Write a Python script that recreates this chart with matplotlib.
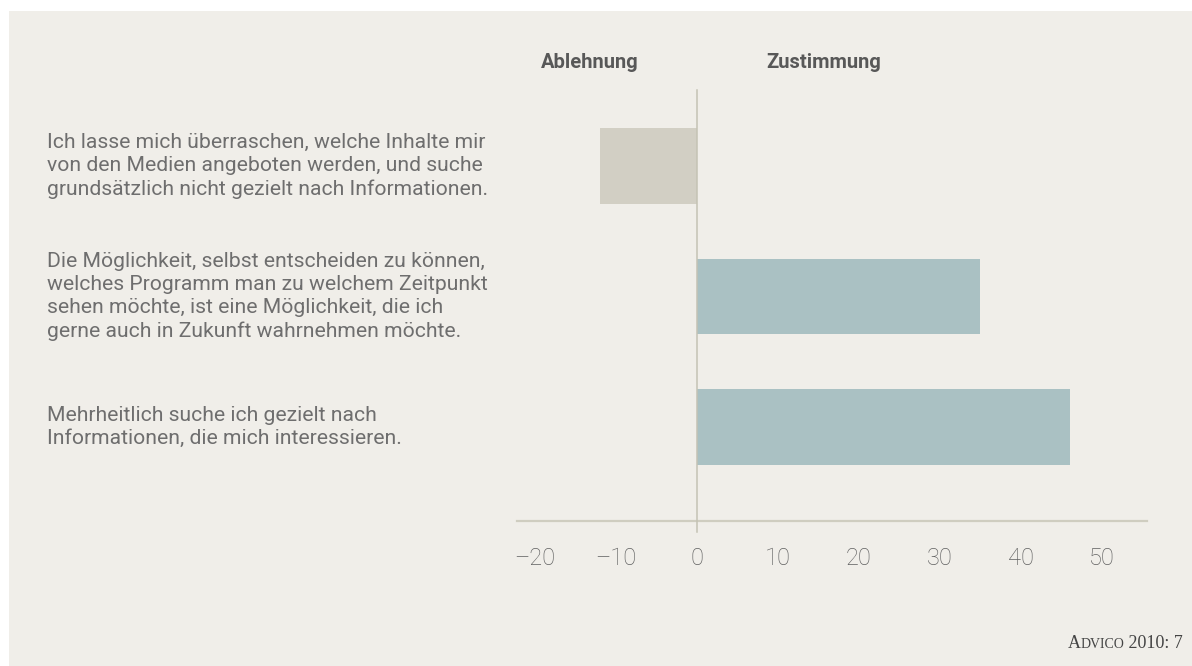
import matplotlib
matplotlib.use('Agg')
import matplotlib.pyplot as plt
import matplotlib.patches as mpatches
import matplotlib.transforms as mtransforms
from matplotlib.offsetbox import TextArea, HPacker, AnchoredOffsetbox

# ── Daten ────────────────────────────────────────────────────────────────────
statements = [
    'Ich lasse mich überraschen, welche Inhalte mir\n'
    'von den Medien angeboten werden, und suche\n'
    'grundsätzlich nicht gezielt nach Informationen.',
    'Die Möglichkeit, selbst entscheiden zu können,\n'
    'welches Programm man zu welchem Zeitpunkt\n'
    'sehen möchte, ist eine Möglichkeit, die ich\n'
    'gerne auch in Zukunft wahrnehmen möchte.',
    'Mehrheitlich suche ich gezielt nach\n'
    'Informationen, die mich interessieren.',
]
values = [-12, 35, 46]
xticks = [-20, -10, 0, 10, 20, 30, 40, 50]
xtick_labels = ['\u201320', '\u201310', '0', '10', '20', '30', '40', '50']

# ── Farben ───────────────────────────────────────────────────────────────────
BG = '#f0eee9'
NEG = '#d2cfc4'
POS = '#aac1c3'
AXIS = '#cfcdc0'
TXT = '#6e6e6e'

plt.rcParams['font.family'] = ['Roboto', 'DejaVu Sans']

W, H = 1192, 666
fig = plt.figure(figsize=(W / 100, H / 100), dpi=100)
fig.patch.set_facecolor('white')
fig.patches.append(mpatches.Rectangle((9 / W, 0), 1 - 9 / W, 1 - 11 / H,
                                      transform=fig.transFigure,
                                      facecolor=BG, edgecolor='none', zorder=-10))

ax = fig.add_axes([517 / W, 1 - 521 / H, 630 / W, 431 / H])
ax.set_facecolor('none')

ypos = list(range(len(values)))
colors = [NEG if v < 0 else POS for v in values]
ax.barh(ypos, values, height=0.582, color=colors, edgecolor='none', zorder=2)

ax.set_xlim(-22.22, 55.56)
ax.set_ylim(2.72, -0.582)

for s in ['top', 'right', 'left']:
    ax.spines[s].set_visible(False)
ax.spines['bottom'].set_color(AXIS)
ax.spines['bottom'].set_linewidth(1.6)

# Nulllinie, ragt etwas unter die x-Achse
ax.axvline(0, ymin=-0.026, ymax=1, color='#c4c2b4', linewidth=1.1,
           clip_on=False, zorder=3)

ax.set_yticks([])
ax.set_xticks(xticks)
ax.set_xticklabels(xtick_labels, fontsize=17, color='#606060', fontweight='light')
ax.tick_params(axis='x', length=0, pad=19)

# Aussagen links (x in Figure-Koordinaten, y in Datenkoordinaten)
trans = mtransforms.blended_transform_factory(fig.transFigure, ax.transData)
for y, s in zip(ypos, statements):
    ax.text(47 / W, y, s, transform=trans, ha='left', va='center',
            fontsize=15.2, color=TXT, linespacing=1.28)

# Kopfzeilen
fig.text(590 / W, 1 - 62 / H, 'Ablehnung', ha='center', va='center',
         fontsize=14.5, fontweight='bold', color='#585858')
fig.text(824 / W, 1 - 62 / H, 'Zustimmung', ha='center', va='center',
         fontsize=14.5, fontweight='bold', color='#585858')

# Quelle in Kapitälchen
serif = ['Liberation Serif', 'DejaVu Serif']
parts = [TextArea('A', textprops=dict(fontsize=13, color='#444', family=serif)),
         TextArea('DVICO', textprops=dict(fontsize=10, color='#444', family=serif)),
         TextArea(' 2010: 7', textprops=dict(fontsize=13, color='#444', family=serif))]
box = HPacker(children=parts, align='baseline', pad=0, sep=0)
anch = AnchoredOffsetbox(loc='lower right', child=box, frameon=False, pad=0,
                         borderpad=0, bbox_to_anchor=(1 - 9 / W, 14 / H),
                         bbox_transform=fig.transFigure)
fig.add_artist(anch)

fig.savefig('out.png', dpi=100, facecolor='white')
